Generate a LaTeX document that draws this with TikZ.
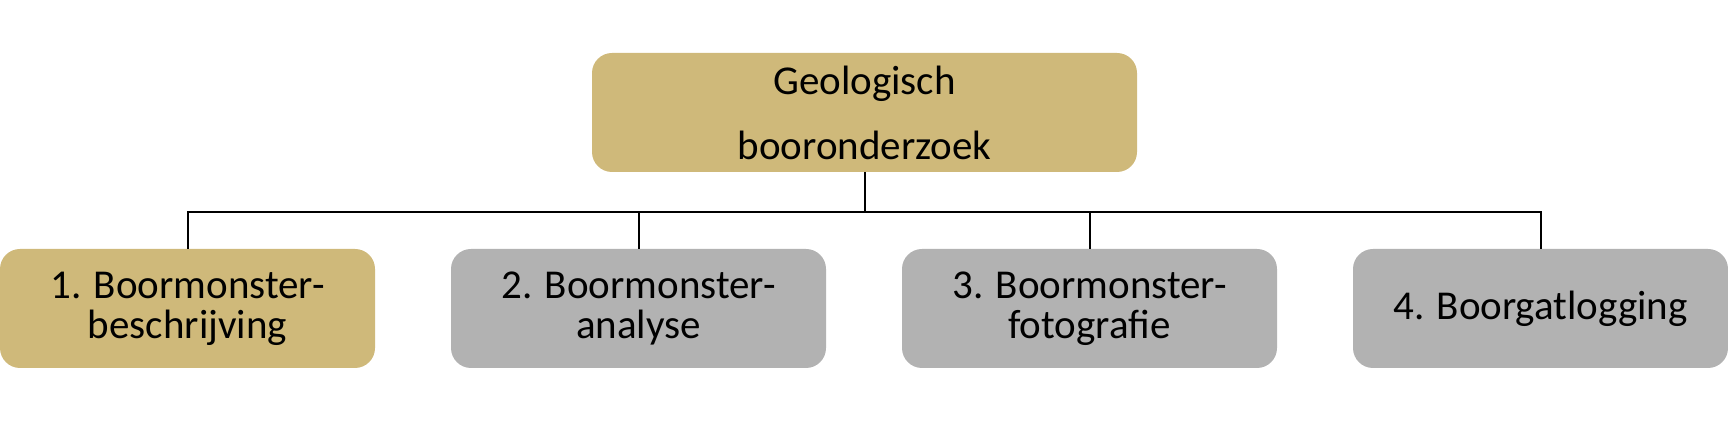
\documentclass[tikz,border=0pt]{standalone}
\usepackage{fontspec}
\setmainfont{Carlito}
\definecolor{boorgoud}{RGB}{207,185,122}
\definecolor{boorgrijs}{RGB}{178,178,178}
\tikzset{
  blok/.style={rounded corners=10pt, inner sep=0pt, outer sep=0pt,
    minimum height=59.5pt, align=center, font=\fontsize{20.5}{20}\selectfont},
  stap/.style={blok, fill=boorgrijs, minimum width=187.5pt},
  tak/.style={line width=1pt, black}
}

\begin{document}
\begin{tikzpicture}[x=0.5pt,y=-0.5pt]
    \useasboundingbox (0,0) rectangle (1728,421);
    \node[blok, fill=boorgoud, minimum width=272.5pt,
      font=\fontsize{20.5}{32.5}\selectfont] (geo) at (864.5,112.5)
      {Geologisch\\booronderzoek};
    \node[stap, fill=boorgoud] (b1) at (187.5,308.5) {1. Boormonster-\\beschrijving};
    \node[stap] (b2) at (638.5,308.5) {2. Boormonster-\\analyse};
    \node[stap] (b3) at (1089.5,308.5) {3. Boormonster-\\fotografie};
    \node[stap] (b4) at (1540.5,308.5) {4. Boorgatlogging};
    \coordinate (hub) at (864.5,212);
    \draw [tak] (geo.south) -- (hub);
    \foreach \b in {b1,b2,b3,b4}
      \draw [tak] (hub) -| (\b.north);
  \end{tikzpicture}
\end{document}
